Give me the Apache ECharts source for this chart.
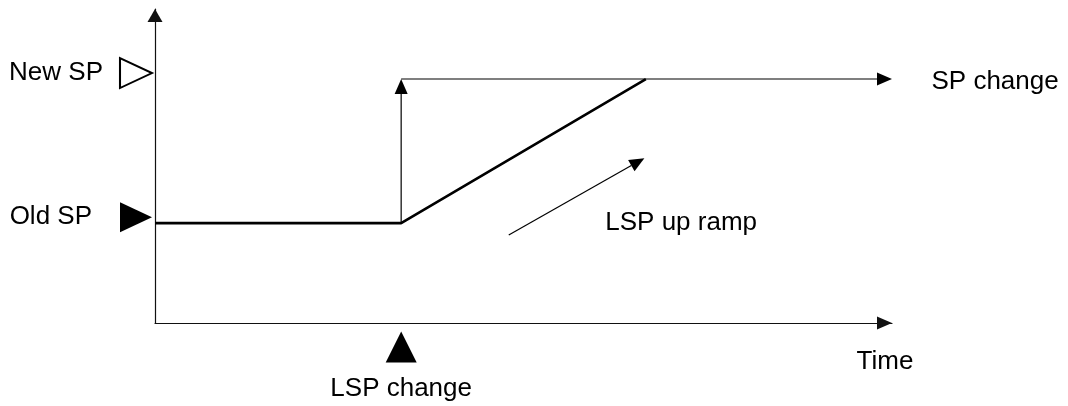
<!DOCTYPE html>
<html>
<head>
<meta charset="utf-8">
<script src="https://cdn.jsdelivr.net/npm/echarts@6/dist/echarts.min.js"></script>
<style>
  html, body { margin: 0; padding: 0; background: #fff; }
  #chart { width: 1068px; height: 406px; }
</style>
</head>
<body>
<div id="chart"></div>
<script>
// Setpoint levels on a 0–100 vertical scale
const levelNames = ['Old SP', 'New SP'];
const levelValues = [31.8, 77.7];

// Axis ranges (time and value, both 0–100)
const timeRange = [0, 100];
const valueRange = [0, 100];

// Moments on the time axis
const lspChangeTime = 33.4;
const rampEndTime = 66.6;

// Local setpoint: holds the old SP, then ramps up to the new SP
const lspTimes = [timeRange[0], lspChangeTime, rampEndTime];
const lspValues = [levelValues[0], levelValues[0], levelValues[1]];

// Setpoint: steps up at the LSP change, then holds the new SP
const spTimes = [lspChangeTime, lspChangeTime, timeRange[1]];
const spValues = [levelValues[0], levelValues[1], levelValues[1]];

// Direction hint drawn beside the ramp
const hintTimes = [48.0, 66.4];
const hintValues = [28.0, 52.5];

// Texts
const spChangeText = 'SP change';
const lspChangeText = 'LSP change';
const rampText = 'LSP up ramp';
const timeText = 'Time';

const FONT = '"Liberation Sans", Arial, Helvetica, sans-serif';
const INK = '#000';
const textStyle = { fontFamily: FONT, fontSize: 26, color: INK };

// Arrow segments [x1, y1, x2, y2]
const arrowSegments = [
  [spTimes[0], spValues[0], spTimes[1], spValues[1]],
  [spTimes[1], spValues[1], spTimes[2], spValues[2]],
  [hintTimes[0], hintValues[0], hintTimes[1], hintValues[1]]
];

const HEAD_LEN = 15;
const HEAD_WIDTH = 13;

function renderArrow(params, api) {
  const p0 = api.coord([api.value(0), api.value(1)]);
  const p1 = api.coord([api.value(2), api.value(3)]);
  const dx = p1[0] - p0[0], dy = p1[1] - p0[1];
  const d = Math.hypot(dx, dy);
  const ux = dx / d, uy = dy / d;
  const bx = p1[0] - ux * HEAD_LEN, by = p1[1] - uy * HEAD_LEN;
  const h = HEAD_WIDTH / 2;
  return {
    type: 'group',
    children: [
      {
        type: 'line',
        shape: { x1: p0[0], y1: p0[1], x2: bx, y2: by },
        style: { stroke: INK, lineWidth: 1.2 }
      },
      {
        type: 'polygon',
        shape: { points: [[p1[0], p1[1]], [bx - uy * h, by + ux * h], [bx + uy * h, by - ux * h]] },
        style: { fill: INK }
      }
    ]
  };
}

const chart = echarts.init(document.getElementById('chart'), null, { renderer: 'canvas' });

const hiddenAxisParts = {
  axisTick: { show: false },
  axisLabel: { show: false },
  splitLine: { show: false }
};

const option = {
  animation: false,
  backgroundColor: '#fff',
  grid: { left: 155, right: 176, top: 9, bottom: 83 },
  xAxis: {
    type: 'value',
    min: timeRange[0],
    max: timeRange[1],
    name: timeText,
    nameLocation: 'end',
    nameGap: 0,
    nameTextStyle: Object.assign({}, textStyle, {
      align: 'center', verticalAlign: 'top', padding: [26, 14, 0, 0]
    }),
    axisLine: {
      show: true,
      lineStyle: { color: '#111', width: 1.2 },
      symbol: ['none', 'triangle'],
      symbolSize: [13, 15],
      symbolOffset: [0, -7.5]
    },
    ...hiddenAxisParts
  },
  yAxis: {
    type: 'value',
    min: valueRange[0],
    max: valueRange[1],
    axisLine: {
      show: true,
      onZero: false,
      lineStyle: { color: '#111', width: 1.2 },
      symbol: ['none', 'triangle'],
      symbolSize: [15, 13],
      symbolOffset: [0, -6.5]
    },
    ...hiddenAxisParts
  },
  series: [
    {
      // local setpoint trace
      type: 'line',
      data: lspTimes.map((t, i) => [t, lspValues[i]]),
      symbol: 'none',
      lineStyle: { color: INK, width: 2.6 },
      z: 3
    },
    {
      // setpoint step and ramp direction hint
      type: 'custom',
      renderItem: renderArrow,
      encode: { x: [0, 2], y: [1, 3] },
      data: arrowSegments,
      clip: false,
      z: 4
    },
    {
      // level markers on the vertical axis
      type: 'scatter',
      clip: false,
      symbol: 'path://M0 0L32 15L0 30Z',
      symbolSize: [32, 30],
      symbolOffset: [-19, -6],
      data: levelNames.map((name, i) => ({
        name,
        value: [timeRange[0], levelValues[i]],
        itemStyle: i === 0
          ? { color: INK, opacity: 1 }
          : { color: '#fff', borderColor: INK, borderWidth: 2, opacity: 1 },
        label: { distance: i === 0 ? 28 : 16 }
      })),
      label: Object.assign({ show: true, position: 'left', formatter: '{b}' }, textStyle),
      z: 5
    },
    {
      // LSP change marker below the time axis
      type: 'scatter',
      clip: false,
      symbol: 'triangle',
      symbolSize: [31, 31],
      symbolOffset: [0, 24],
      itemStyle: { color: INK, opacity: 1 },
      data: [{ name: lspChangeText, value: [lspChangeTime, valueRange[0]] }],
      label: Object.assign({ show: true, position: 'bottom', distance: 13, formatter: '{b}' }, textStyle),
      z: 5
    },
    {
      // text notes
      type: 'scatter',
      clip: false,
      symbol: 'circle',
      symbolSize: 1,
      itemStyle: { color: 'rgba(0,0,0,0)', opacity: 1 },
      data: [
        {
          name: spChangeText,
          value: [spTimes[2], spValues[2]],
          label: { position: 'right', distance: 39, offset: [0, 3] }
        },
        {
          name: rampText,
          value: [hintTimes[0], hintValues[0]],
          label: { position: 'right', distance: 96, offset: [0, -12] }
        }
      ],
      label: Object.assign({ show: true, formatter: '{b}' }, textStyle),
      z: 5
    }
  ]
};

chart.setOption(option);
</script>
</body>
</html>
